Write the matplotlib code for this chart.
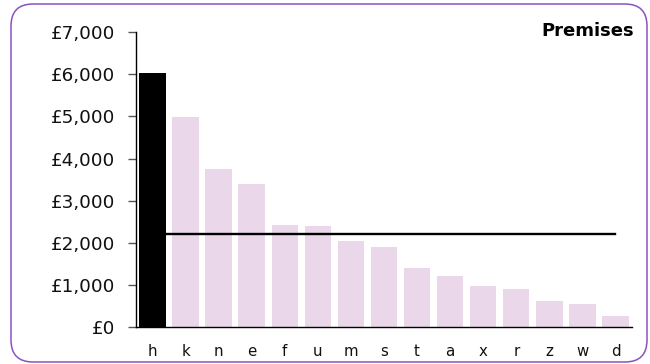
import matplotlib
matplotlib.use('Agg')
import matplotlib.pyplot as plt
import matplotlib.patches as mpatches
import matplotlib.transforms as mtransforms
import matplotlib.ticker as tk

# bar data
labels = ['h', 'k', 'n', 'e', 'f', 'u', 'm', 's', 't', 'a', 'x', 'r', 'z', 'w', 'd']
values = [6040, 4990, 3755, 3400, 2420, 2400, 2045, 1905, 1410, 1215, 975, 910, 610, 550, 265]
average = 2200
highlight = 'h'
title = 'Premises'

plt.rcParams['font.family'] = ['DejaVu Sans']

fig = plt.figure(figsize=(6.5, 3.64), dpi=100)
ax = fig.add_axes([0.2092, 0.1016, 0.7631, 0.8097])

x = list(range(len(labels)))
colors = ['#000000' if l == highlight else '#ead7ea' for l in labels]
ax.bar(x, values, width=0.8, color=colors, zorder=2)
ax.plot([x[0], x[-1]], [average, average], color='black', lw=1.7,
        solid_capstyle='projecting', zorder=3)

ax.set_xlim(-0.5, len(labels) - 0.5)
ax.set_ylim(0, 7000)
ax.set_xticks(x)
ax.set_xticklabels(labels)
ax.yaxis.set_major_locator(tk.MultipleLocator(1000))
ax.yaxis.set_major_formatter(tk.FuncFormatter(lambda v, p: '£{:,.0f}'.format(v)))

for s in ['top', 'right']:
    ax.spines[s].set_visible(False)
ax.spines['left'].set_linewidth(1)
ax.spines['bottom'].set_linewidth(1)
ax.tick_params(axis='y', length=6, width=1, color='#555555', pad=9, labelsize=13.2, labelcolor='#111111')
ax.tick_params(axis='x', length=0, pad=12, labelsize=10.8, labelcolor='#111111')

fig.text(0.975, 0.901, title, ha='right', va='baseline', fontsize=13, fontweight='bold')

# rounded purple frame, in pixels
border = mpatches.FancyBboxPatch((11, 2), 636, 358, boxstyle='round,pad=0,rounding_size=22',
                                 facecolor='none', edgecolor='#8a52c2', lw=1.1,
                                 transform=mtransforms.IdentityTransform())
fig.add_artist(border)

fig.savefig('out.png', dpi=100)
